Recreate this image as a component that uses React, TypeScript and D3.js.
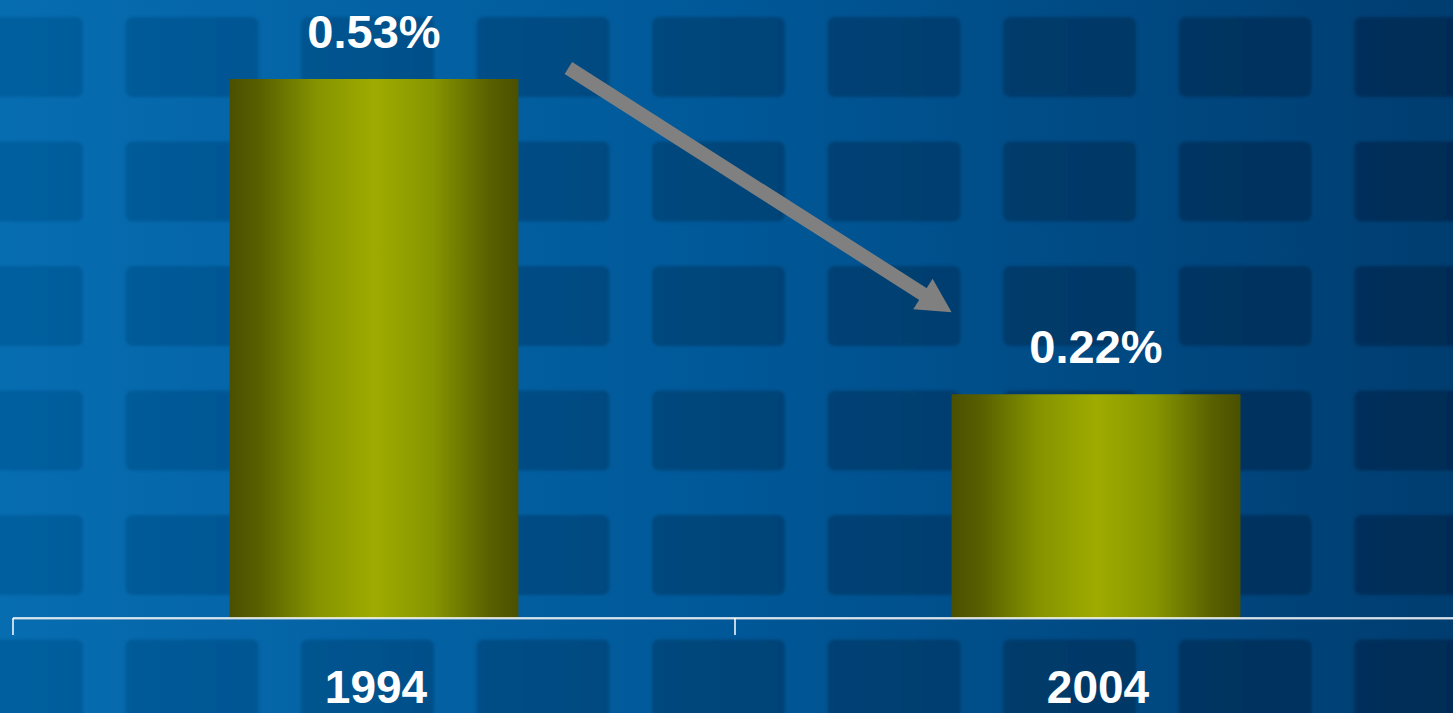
import React from "react";
import * as d3 from "d3";

const categories = ["1994", "2004"];
const values = [0.53, 0.22];
const valueLabels = ["0.53%", "0.22%"];

const W = 1453;
const H = 713;

export default function App() {
  const x = d3.scaleBand<string>().domain(categories).range([13, 1457]).paddingInner(0.6).paddingOuter(0.3);
  const y = d3.scaleLinear().domain([0, 0.53]).range([618, 79]);
  const bw = x.bandwidth();
  const step = x.step();
  const baseY = y(0);

  // background tile layout
  const tileCols = d3.range(9).map((i) => -50 + i * 175.5);
  const tileRows = d3.range(6).map((i) => 17 + i * 124.5);

  // arrow from first bar to second bar
  const sx = (x(categories[0]) as number) + bw + 50;
  const sy = y(values[0]) - 11;
  const tx = x(categories[1]) as number;
  const ty = y(values[1]) - 82;
  const dx = tx - sx;
  const dy = ty - sy;
  const len = Math.hypot(dx, dy);
  const ux = dx / len;
  const uy = dy / len;
  const nx = -uy;
  const ny = ux;
  const headLen = 34;
  const headHalf = 18;
  const bx = tx - headLen * ux;
  const by = ty - headLen * uy;
  const head = [
    [tx, ty],
    [bx + headHalf * nx, by + headHalf * ny],
    [bx - headHalf * nx, by - headHalf * ny],
  ];

  const boundaries = [...categories.map((c) => (x(c) as number) - step * 0.3), 1457];

  return (
    <svg
      width={W}
      height={H}
      style={{ position: "fixed", left: 0, top: 0, display: "block" }}
      fontFamily="'Liberation Sans', Arial, sans-serif"
    >
      <defs>
        <linearGradient id="bandGrad" gradientUnits="userSpaceOnUse" x1={0} y1={0} x2={W} y2={0}>
          <stop offset="0" stopColor="#076db1" />
          <stop offset="0.5" stopColor="#005898" />
          <stop offset="1" stopColor="#003d70" />
        </linearGradient>
        <linearGradient id="tileGrad" gradientUnits="userSpaceOnUse" x1={0} y1={0} x2={W} y2={0}>
          <stop offset="0" stopColor="#005f9f" />
          <stop offset="0.5" stopColor="#00457a" />
          <stop offset="1" stopColor="#002c56" />
        </linearGradient>
        <linearGradient id="barGrad" x1="0" y1="0" x2="1" y2="0">
          <stop offset="0" stopColor="#4b5000" />
          <stop offset="0.1" stopColor="#575f00" />
          <stop offset="0.3" stopColor="#859300" />
          <stop offset="0.5" stopColor="#9fab00" />
          <stop offset="0.7" stopColor="#879600" />
          <stop offset="0.9" stopColor="#596000" />
          <stop offset="1" stopColor="#4b5000" />
        </linearGradient>
        <filter id="soft" x="-5%" y="-10%" width="110%" height="120%">
          <feGaussianBlur stdDeviation="1.8" />
        </filter>
      </defs>

      <rect x={0} y={0} width={W} height={H} fill="url(#bandGrad)" />
      <g filter="url(#soft)">
        {tileRows.map((ty0, ri) =>
          tileCols.map((tx0, ci) => (
            <rect key={`${ri}-${ci}`} x={tx0} y={ty0} width={133} height={80} rx={7} fill="url(#tileGrad)" />
          ))
        )}
      </g>

      {categories.map((c, i) => (
        <rect key={c} x={x(c)} y={y(values[i])} width={bw} height={baseY - y(values[i])} fill="url(#barGrad)" />
      ))}

      {categories.map((c, i) => (
        <text
          key={`l-${c}`}
          x={(x(c) as number) + bw / 2}
          y={y(values[i]) - 31}
          textAnchor="middle"
          fontSize={47}
          fontWeight="bold"
          fill="#ffffff"
        >
          {valueLabels[i]}
        </text>
      ))}

      {/* axis */}
      <line x1={13} x2={W} y1={baseY + 1} y2={baseY + 1} stroke="#bfc8d4" strokeWidth={1} />
      <line x1={13} x2={W} y1={baseY} y2={baseY} stroke="#ffffff" strokeWidth={1.5} />
      {boundaries.map((b, i) => (
        <line key={`t-${i}`} x1={b} x2={b} y1={baseY} y2={baseY + 17} stroke="#ffffff" strokeWidth={1.5} />
      ))}
      {categories.map((c) => (
        <text
          key={`c-${c}`}
          x={(x(c) as number) + bw / 2 + 2}
          y={baseY + 85}
          textAnchor="middle"
          fontSize={46}
          fontWeight="bold"
          fill="#ffffff"
        >
          {c}
        </text>
      ))}

      {/* arrow */}
      <line x1={sx} y1={sy} x2={bx + ux * 2} y2={by + uy * 2} stroke="#808080" strokeWidth={14} />
      <polygon points={head.map((p) => p.join(",")).join(" ")} fill="#808080" />
    </svg>
  );
}
